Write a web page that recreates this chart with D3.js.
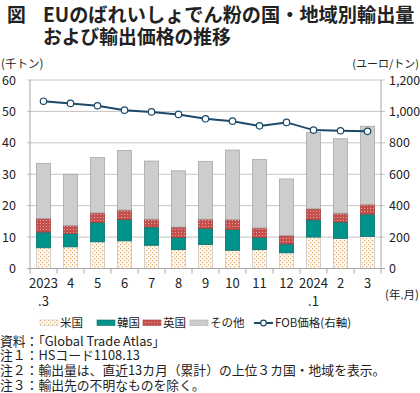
<!DOCTYPE html>
<html><head><meta charset="utf-8">
<script src="https://cdn.jsdelivr.net/npm/d3@7"></script>
<style>
html,body{margin:0;padding:0;background:#fff;}
svg{display:block;font-family:"Noto Sans CJK JP","Noto Sans",sans-serif;}
</style></head>
<body>
<svg id="c" width="420" height="393"></svg>
<script>
const months = ["2023.3","4","5","6","7","8","9","10","11","12","2024.1","2","3"];
const us    = [6.6,6.9,8.5,8.8,7.4,6.0,7.6,5.8,6.0,5.0,10.0,9.6,10.2];
const korea = [5.0,4.2,6.2,6.8,5.8,3.9,5.2,6.6,3.9,2.8,5.5,5.2,7.1];
const uk    = [4.3,2.6,3.0,3.0,2.5,3.3,2.9,3.2,3.0,2.7,3.5,2.8,3.1];
const other = [17.5,16.3,17.6,19.0,18.5,17.9,18.4,22.1,21.8,18.0,24.3,23.7,24.9];
const fob   = [1065,1051,1036,1008,997,981,953,938,908,930,881,877,873];
const leftTicks = [0,10,20,30,40,50,60];
const rightTicks = [0,200,400,600,800,1000,1200];
const seriesNames = ["米国","韓国","英国","その他"];
const lineName = "FOB価格(右軸)";
const titleLines = ["EUのばれいしょでん粉の国・地域別輸出量","および輸出価格の推移"];
const notes = ["資料：「Global Trade Atlas」","注１：HSコード1108.13","注２：輸出量は、直近13カ月（累計）の上位３カ国・地域を表示。","注３：輸出先の不明なものを除く。"];

const svg = d3.select("#c");
const defs = svg.append("defs");
// US dotted pattern
const pUS = defs.append("pattern").attr("id","pUS").attr("width",4).attr("height",4).attr("patternUnits","userSpaceOnUse");
pUS.append("rect").attr("width",4).attr("height",4).attr("fill","#fffbf5");
pUS.append("rect").attr("x",0).attr("y",0).attr("width",1.2).attr("height",1.2).attr("fill","#e2ab70");
pUS.append("rect").attr("x",2).attr("y",2).attr("width",1.2).attr("height",1.2).attr("fill","#e2ab70");
// UK pattern
const pUK = defs.append("pattern").attr("id","pUK").attr("width",3).attr("height",3).attr("patternUnits","userSpaceOnUse");
pUK.append("rect").attr("width",3).attr("height",3).attr("fill","#c4504e");
pUK.append("rect").attr("x",1).attr("y",1).attr("width",1).attr("height",1).attr("fill","#e8a3a1");

const x0 = 30, x1 = 381, yTop = 80, yBot = 268.5;
const x = d3.scaleBand().domain(months).range([x0,x1]).paddingInner(0.44).paddingOuter(0.22);
const yL = d3.scaleLinear().domain([0,60]).range([yBot,yTop]);
const yR = d3.scaleLinear().domain([0,1200]).range([yBot,yTop]);

// gridlines
svg.append("g").selectAll("line").data(leftTicks.filter(d=>d>0)).join("line")
  .attr("x1",x0-3).attr("x2",x1+4).attr("y1",d=>yL(d)).attr("y2",d=>yL(d))
  .attr("stroke","#c4c4c4").attr("stroke-width",1);

// stacked bars
const rows = months.map((m,i)=>({m, 米国:us[i], 韓国:korea[i], 英国:uk[i], その他:other[i]}));
const stack = d3.stack().keys(seriesNames)(rows);
const fills = {"米国":"url(#pUS)","韓国":"#00938c","英国":"url(#pUK)","その他":"#cdcdcd"};
const strokes = {"米国":"#c8c8c8","韓国":"#0c6f6a","英国":"#a04442","その他":"#a8a8a8"};
svg.append("g").selectAll("g").data(stack).join("g")
  .each(function(s){
    d3.select(this).selectAll("rect").data(s).join("rect")
      .attr("x",d=>x(d.data.m)+0.5).attr("width",x.bandwidth()-1)
      .attr("y",d=>yL(d[1])).attr("height",d=>yL(d[0])-yL(d[1]))
      .attr("fill",fills[s.key]).attr("stroke",strokes[s.key]).attr("stroke-width",0.8);
  });

// axes lines
const axisColor = "#a6a6a6";
svg.append("line").attr("x1",x0).attr("x2",x0).attr("y1",yTop).attr("y2",yBot).attr("stroke",axisColor);
svg.append("line").attr("x1",x1).attr("x2",x1).attr("y1",yTop).attr("y2",yBot).attr("stroke",axisColor);
svg.append("line").attr("x1",x0-3).attr("x2",x1+4).attr("y1",yBot).attr("y2",yBot).attr("stroke",axisColor);
// x ticks at band boundaries
const bounds = months.map(m=>x(m)-x.step()*x.paddingInner()/2).concat([x1]);
svg.append("g").selectAll("line").data(bounds).join("line")
  .attr("x1",d=>d).attr("x2",d=>d).attr("y1",yBot).attr("y2",yBot+5).attr("stroke",axisColor);

// left tick labels
svg.append("g").selectAll("text").data(leftTicks).join("text")
  .attr("x",16).attr("y",d=>yL(d)+4.5).attr("text-anchor","end")
  .attr("font-size",12.5).attr("fill","#222").text(d=>d);
// right tick labels
svg.append("g").selectAll("text").data(rightTicks).join("text")
  .attr("x",389).attr("y",d=>yR(d)+4.5).attr("text-anchor","start")
  .attr("font-size",12.5).attr("fill","#222").text(d=>d3.format(",")(d));

// x labels
const xl = svg.append("g").selectAll("g").data(months).join("g");
xl.append("text").attr("x",d=>x(d)+x.bandwidth()/2).attr("y",288)
  .attr("text-anchor","middle").attr("font-size",13).attr("fill","#222")
  .text(d=>d.split(".")[0]);
xl.filter(d=>d.includes(".")).append("text").attr("x",d=>x(d)+x.bandwidth()/2).attr("y",305.5)
  .attr("text-anchor","middle").attr("font-size",13).attr("fill","#222")
  .text(d=>"."+d.split(".")[1]);
svg.append("text").attr("x",419).attr("y",299).attr("text-anchor","end")
  .attr("font-size",11.5).attr("fill","#222").text("(年.月)");

// axis titles
svg.append("text").attr("x",1).attr("y",68).attr("font-size",11.5).attr("fill","#222").text("(千トン)");
svg.append("text").attr("x",419).attr("y",68).attr("text-anchor","end").attr("font-size",11).attr("fill","#222").text("(ユーロ/トン)");

// line
const lineColor = "#1c4a6a";
const pts = months.map((m,i)=>[x(m)+x.bandwidth()/2, yR(fob[i])]);
svg.append("path").attr("d",d3.line()(pts)).attr("fill","none").attr("stroke",lineColor).attr("stroke-width",2);
svg.append("g").selectAll("circle").data(pts).join("circle")
  .attr("cx",d=>d[0]).attr("cy",d=>d[1]).attr("r",3.2)
  .attr("fill","#fff").attr("stroke",lineColor).attr("stroke-width",1.2);

// title
svg.append("text").attr("x",7).attr("y",22).attr("font-size",18.8).attr("font-weight",700).attr("fill","#222").text("図");
svg.append("text").attr("x",43).attr("y",22).attr("font-size",19.2).attr("font-weight",700).attr("fill","#222").text(titleLines[0]);
svg.append("text").attr("x",43).attr("y",43.5).attr("font-size",18.8).attr("font-weight",700).attr("fill","#222").text(titleLines[1]);

// legend
const ly = 323;
const legItems = [
  {name:"米国", sx:40, tx:60},
  {name:"韓国", sx:97, tx:117},
  {name:"英国", sx:143, tx:163},
  {name:"その他", sx:190, tx:210}
];
const lg = svg.append("g");
legItems.forEach(it=>{
  lg.append("rect").attr("x",it.sx).attr("y",ly-3).attr("width",18).attr("height",5.5)
    .attr("fill",fills[it.name]).attr("stroke",strokes[it.name]).attr("stroke-width",0.6);
  lg.append("text").attr("x",it.tx).attr("y",ly+4.2).attr("font-size",11.5).attr("fill","#222").text(it.name);
});
lg.append("line").attr("x1",254).attr("x2",273).attr("y1",ly).attr("y2",ly).attr("stroke",lineColor).attr("stroke-width",2);
lg.append("circle").attr("cx",263.5).attr("cy",ly).attr("r",2.8).attr("fill","#fff").attr("stroke",lineColor).attr("stroke-width",1.2);
lg.append("text").attr("x",275).attr("y",ly+4.2).attr("font-size",11.5).attr("fill","#222").text(lineName);

// notes
svg.append("g").selectAll("text").data(notes).join("text")
  .attr("x",0).attr("y",(d,i)=>345.5+i*14.8).attr("font-size",12.8).attr("fill","#222").text(d=>d);
</script>
</body></html>
